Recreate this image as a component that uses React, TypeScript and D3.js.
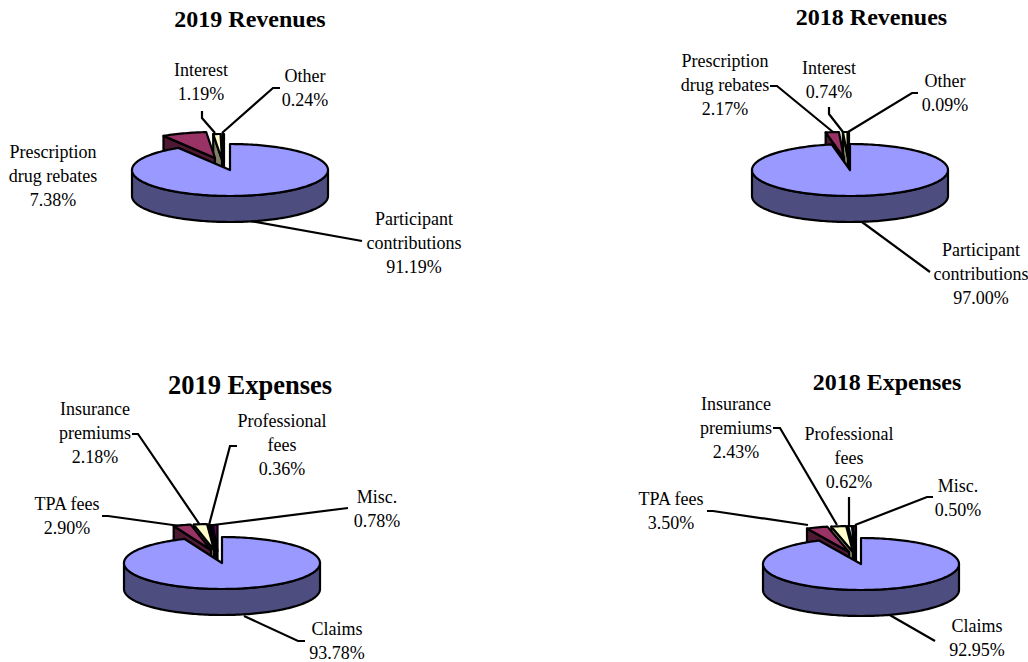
import React from "react";
import * as d3 from "d3";

const revenueLabels19 = [["Participant", "contributions"], ["Prescription", "drug rebates"], ["Interest"], ["Other"]];
const revenueValues19 = [91.19, 7.38, 1.19, 0.24];
const revenueLabels18 = [["Participant", "contributions"], ["Prescription", "drug rebates"], ["Interest"], ["Other"]];
const revenueValues18 = [97.0, 2.17, 0.74, 0.09];
const expenseLabels19 = [["Claims"], ["TPA fees"], ["Insurance", "premiums"], ["Professional", "fees"], ["Misc."]];
const expenseValues19 = [93.78, 2.9, 2.18, 0.36, 0.78];
const expenseLabels18 = [["Claims"], ["TPA fees"], ["Insurance", "premiums"], ["Professional", "fees"], ["Misc."]];
const expenseValues18 = [92.95, 3.5, 2.43, 0.62, 0.5];

const topColors = ["#9999ff", "#993366", "#ffffcc", "#ccffff", "#660066"];
const sideColors = ["#4d4d80", "#4d1933", "#808066", "#668080", "#330033"];

type Pt = [number, number];
type P = { title: string; tx: number; ty: number; ts: number; names: string[][]; vals: number[]; cx: number; cy: number; rx: number; ry: number; depth: number;
  off: Pt[]; lab: Pt[]; leaders: Pt[][] };

const panels: P[] = [
  { title: "2019 Revenues", tx: 250, ty: 27, ts: 24, names: revenueLabels19, vals: revenueValues19, cx: 230, cy: 170, rx: 98, ry: 26, depth: 26,
    off: [[-15, -12], [-8, -10], [-6, -10]],
    lab: [[414, 225], [53, 158], [201, 76], [305, 82]],
    leaders: [[[362, 241], [250, 221]], [], [[202, 111], [202, 118], [215, 133]], [[280, 88], [273, 88], [222, 133]]] },
  { title: "2018 Revenues", tx: 871.5, ty: 25, ts: 24, names: revenueLabels18, vals: revenueValues18, cx: 850, cy: 170, rx: 98, ry: 26, depth: 26,
    off: [[-6, -12], [-2, -12], [-1, -12]],
    lab: [[981, 256], [725, 67], [829, 74], [945, 87]],
    leaders: [[[930, 272], [862, 222]], [[770, 86], [777, 86], [833, 132]], [[829, 107], [829, 114], [843, 132]], [[918, 93], [912, 93], [848, 132]]] },
  { title: "2019 Expenses", tx: 250, ty: 394, ts: 26.5, names: expenseLabels19, vals: expenseValues19, cx: 222, cy: 563, rx: 98, ry: 26, depth: 26,
    off: [[-11, -13], [-8, -13], [-6, -12], [-4.5, -12]],
    lab: [[337, 635], [67, 510], [95, 415], [282, 427], [377, 503]],
    leaders: [[[305, 641], [298, 641], [244, 616]], [[102, 516], [108, 516], [180, 526]], [[132, 434], [138, 434], [200, 525]], [[237, 446], [230, 446], [209, 525]], [[348, 508], [213, 525]]] },
  { title: "2018 Expenses", tx: 887, ty: 390, ts: 24, names: expenseLabels18, vals: expenseValues18, cx: 861, cy: 564, rx: 98, ry: 26, depth: 26,
    off: [[-12, -12], [-8, -12], [-6, -12], [-5, -12]],
    lab: [[977, 632], [671, 505], [736, 410], [849, 440], [958, 492]],
    leaders: [[[935, 641], [888, 614]], [[707, 511], [713, 511], [808, 525]], [[773, 428], [780, 428], [837, 525]], [[849, 497], [849, 525]], [[933, 497], [927, 497], [855, 525]]] },
];

function Pie({ p }: { p: P }) {
  const arcs = d3.pie<number>().sort(null).value((d) => d)(p.vals);
  const total = d3.sum(p.vals);
  const pt = (a: number, cx: number, cy: number) => [cx + p.rx * Math.sin(a), cy - p.ry * Math.cos(a)] as Pt;
  const rim = (a0: number, a1: number, cx: number, cy: number) => {
    const n = Math.max(2, Math.ceil(Math.abs(a1 - a0) * 40));
    return d3.range(n + 1).map((i) => pt(a0 + ((a1 - a0) * i) / n, cx, cy));
  };
  const line = d3.line();
  const stroke = { stroke: "#000", strokeWidth: 2.2, strokeLinejoin: "round" as const };
  const pieces = arcs.slice(1).map((a, i) => {
    const cx = p.cx + p.off[i][0];
    const cy = p.cy + p.off[i][1];
    const [sx, sy] = pt(a.startAngle, cx, cy);
    return (
      <g key={i}>
        <path d={line([[cx, cy], [sx, sy], [sx, sy + p.depth], [cx, cy + p.depth]])! + "Z"} fill={sideColors[i + 1]} {...stroke} />
        <path d={line([[cx, cy], ...rim(a.startAngle, a.endAngle, cx, cy)])! + "Z"} fill={topColors[i + 1]} {...stroke} />
      </g>
    );
  }).reverse();
  const main = arcs[0];
  const wall = rim(Math.PI / 2, Math.min(main.endAngle, 1.5 * Math.PI), p.cx, p.cy);
  const wallBottom = wall.map(([x, y]) => [x, y + p.depth] as Pt).reverse();
  return (
    <g>
      {p.leaders.map((l, i) => l.length ? <path key={i} d={line(l)!} fill="none" stroke="#000" strokeWidth={2.2} /> : null)}
      {pieces}
      <path d={line([...wall, ...wallBottom])! + "Z"} fill={sideColors[0]} {...stroke} />
      <path d={line([[p.cx, p.cy], ...rim(0, main.endAngle, p.cx, p.cy)])! + "Z"} fill={topColors[0]} {...stroke} />
      {p.names.map((name, i) => {
        const [x, y] = p.lab[i];
        return (
          <text key={i} textAnchor="middle" fontSize={18} fontFamily="'Liberation Serif'" fill="#000">
            {[...name, ((p.vals[i] / total) * 100).toFixed(2) + "%"].map((t, j) => (
              <tspan key={j} x={x} y={y + j * 24}>{t}</tspan>
            ))}
          </text>
        );
      })}
      <text x={p.tx} y={p.ty} textAnchor="middle" fontSize={p.ts} fontWeight="bold" fontFamily="'Liberation Serif'">{p.title}</text>
    </g>
  );
}

export default function App() {
  return (
    <svg width={1028} height={662} style={{ position: "absolute", left: 0, top: 0, background: "#fff" }}>
      {panels.map((p) => <Pie key={p.title} p={p} />)}
    </svg>
  );
}
